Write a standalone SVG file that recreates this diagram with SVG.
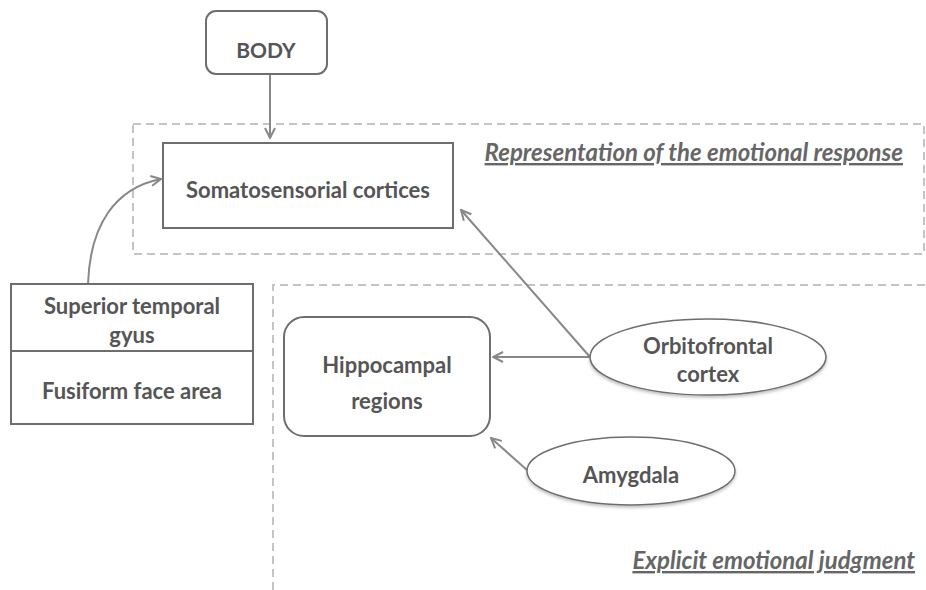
<svg xmlns="http://www.w3.org/2000/svg" width="926" height="590" viewBox="0 0 926 590">
<defs>
<style>
.t{font-family:Lato,"Liberation Sans",sans-serif;font-weight:bold;font-size:22px;fill:#555;text-anchor:middle}
.lab{font-family:Lato,"Liberation Sans",sans-serif;font-weight:bold;font-style:italic;font-size:24px;fill:#666;text-decoration:underline}
.box{fill:#fff;stroke:#6e6e6e;stroke-width:2}
.ell{fill:#fff;stroke:#6e6e6e;stroke-width:1.5}
.dash{fill:none;stroke:#c4c4c4;stroke-width:2;stroke-dasharray:8 5}
.con{fill:none;stroke:#888;stroke-width:2}
</style>
<marker id="ah" viewBox="0 0 12 12" refX="11" refY="6" markerWidth="12" markerHeight="12" markerUnits="userSpaceOnUse" orient="auto">
<path d="M1,1 L11,6 L1,11" fill="none" stroke="#888" stroke-width="2"/>
</marker>
<filter id="sh" x="-10%" y="-10%" width="120%" height="130%">
<feDropShadow dx="0" dy="2" stdDeviation="1.5" flood-color="#000" flood-opacity="0.25"/>
</filter>
</defs>
<rect width="926" height="590" fill="#fff"/>
<g id="regions">
<rect class="dash" x="133" y="124" width="791" height="130"/>
<path class="dash" d="M273,590 V285 H926"/>
<text class="lab" x="903" y="161" text-anchor="end">Representation of the emotional response</text>
<text class="lab" x="915" y="569" text-anchor="end">Explicit emotional judgment</text>
</g>
<g id="connectors">
<line class="con" x1="270" y1="75" x2="270" y2="138" marker-end="url(#ah)"/>
<path class="con" d="M88,284 C90,225 115,188 161,179" marker-end="url(#ah)"/>
<line class="con" x1="590" y1="357" x2="461" y2="210" marker-end="url(#ah)"/>
<line class="con" x1="590" y1="357" x2="493" y2="357" marker-end="url(#ah)"/>
<line class="con" x1="527" y1="470" x2="491" y2="438" marker-end="url(#ah)"/>
</g>
<g id="body">
<rect class="box" x="206" y="11" width="121" height="63" rx="10"/>
<text class="t" x="266" y="58" style="font-size:21px">BODY</text>
</g>
<g id="somatosensorial">
<rect class="box" x="163" y="143" width="290" height="85"/>
<text class="t" x="308" y="198">Somatosensorial cortices</text>
</g>
<g id="superior-temporal">
<rect class="box" x="11" y="284" width="242" height="67"/>
<text class="t" x="132" y="314">Superior temporal</text>
<text class="t" x="132" y="343">gyus</text>
</g>
<g id="fusiform">
<rect class="box" x="11" y="351" width="242" height="73"/>
<text class="t" x="132" y="399">Fusiform face area</text>
</g>
<g id="hippocampal">
<rect class="box" x="284" y="317" width="206" height="119" rx="20"/>
<text class="t" x="387" y="373">Hippocampal</text>
<text class="t" x="387" y="409">regions</text>
</g>
<g id="orbitofrontal">
<ellipse class="ell" cx="708" cy="357" rx="118" ry="38" filter="url(#sh)"/>
<text class="t" x="708" y="354">Orbitofrontal</text>
<text class="t" x="708" y="382">cortex</text>
</g>
<g id="amygdala">
<ellipse class="ell" cx="631" cy="471" rx="104" ry="34" filter="url(#sh)"/>
<text class="t" x="631" y="483">Amygdala</text>
</g>
</svg>
